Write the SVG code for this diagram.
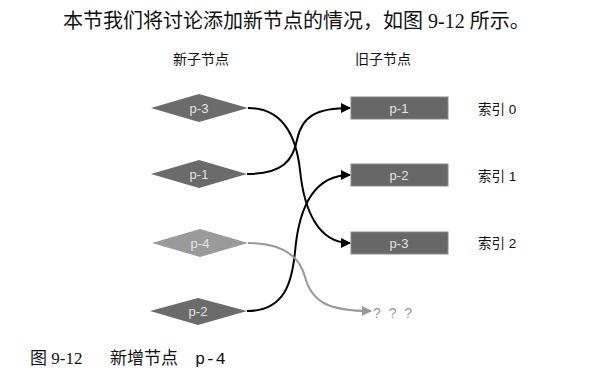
<svg xmlns="http://www.w3.org/2000/svg" width="589" height="378" viewBox="0 0 589 378">
  <style>
    .serif { font-family: "Liberation Serif", "Noto Sans CJK SC", serif; fill: #111; }
    .head { font-family: "Liberation Sans", "Noto Sans CJK SC", sans-serif; font-size: 14px; fill: #111; }
    .idx { font-family: "Liberation Sans", "Noto Sans CJK SC", sans-serif; font-size: 13.5px; fill: #111; }
    .lbl { font-family: "Liberation Sans", Arial, sans-serif; font-size: 13px; fill: #e4e4e4; text-anchor: middle; }
    .dia { fill: #6b6b6b; }
    .dia-new { fill: #9a9a9a; }
    .box { fill: #676767; stroke: #8a8a8a; stroke-width: 1; }
    .link { fill: none; stroke: #000; stroke-width: 2; }
    .link-new { fill: none; stroke: #999; stroke-width: 2; }
  </style>
  <defs>
    <marker id="arrow" viewBox="0 0 10 10" refX="9" refY="5" markerWidth="5" markerHeight="5" markerUnits="strokeWidth" orient="auto">
      <path d="M0,0 L10,5 L0,10 Z" fill="#000"/>
    </marker>
    <marker id="arrow-gray" viewBox="0 0 10 10" refX="9" refY="5" markerWidth="5" markerHeight="5" markerUnits="strokeWidth" orient="auto">
      <path d="M0,0 L10,5 L0,10 Z" fill="#999"/>
    </marker>
  </defs>

  <rect width="589" height="378" fill="#fff"/>

  <!-- intro sentence -->
  <text class="serif" x="63" y="28" font-size="20">本节我们将讨论添加新节点的情况，如图 9-12 所示。</text>

  <!-- column headings -->
  <text class="head" x="173" y="64">新子节点</text>
  <text class="head" x="355" y="64">旧子节点</text>

  <!-- connectors -->
  <g id="connectors">
    <path class="link" d="M248,108 C282,108 296,135 300,170 C304,210 318,243 350,243" marker-end="url(#arrow)"/>
    <path class="link" d="M247,174 C283,174 293,160 297,140 C302,115 318,108 350,108" marker-end="url(#arrow)"/>
    <path class="link" d="M247,311 C285,311 292,282 295,252 C299,205 315,175 350,175" marker-end="url(#arrow)"/>
    <path class="link-new" d="M248,243 C285,243 300,258 305,277 C312,303 330,311 371,311" marker-end="url(#arrow-gray)"/>
  </g>

  <!-- new children (diamonds) -->
  <g id="new-p3">
    <polygon class="dia" points="151,108 199,94 248,108 199,122"/>
    <text class="lbl" x="199" y="113">p-3</text>
  </g>
  <g id="new-p1">
    <polygon class="dia" points="151,174 199,160 247,174 199,188"/>
    <text class="lbl" x="199" y="179">p-1</text>
  </g>
  <g id="new-p4">
    <polygon class="dia-new" points="152,243 200,229 248,243 200,257"/>
    <text class="lbl" x="200" y="248">p-4</text>
  </g>
  <g id="new-p2">
    <polygon class="dia" points="150,311 198,298 247,311 198,325"/>
    <text class="lbl" x="198" y="316">p-2</text>
  </g>

  <!-- old children (rectangles) -->
  <g id="old-p1">
    <rect class="box" x="351" y="97" width="97" height="22"/>
    <text class="lbl" x="399" y="113">p-1</text>
  </g>
  <g id="old-p2">
    <rect class="box" x="351" y="164" width="97" height="22"/>
    <text class="lbl" x="399" y="180">p-2</text>
  </g>
  <g id="old-p3">
    <rect class="box" x="351" y="232" width="97" height="22"/>
    <text class="lbl" x="399" y="248">p-3</text>
  </g>

  <!-- index labels -->
  <text class="idx" x="478" y="114">索引 0</text>
  <text class="idx" x="478" y="181">索引 1</text>
  <text class="idx" x="478" y="248">索引 2</text>

  <!-- unknown slot -->
  <text x="373" y="318" font-family="Liberation Sans, sans-serif" font-size="14" letter-spacing="2" fill="#999">? ? ?</text>

  <!-- caption -->
  <text class="serif" x="30" y="364" font-size="17">图 9-12<tspan x="110">新增节点</tspan><tspan x="195" font-family="Liberation Mono, monospace">p-4</tspan></text>
</svg>
